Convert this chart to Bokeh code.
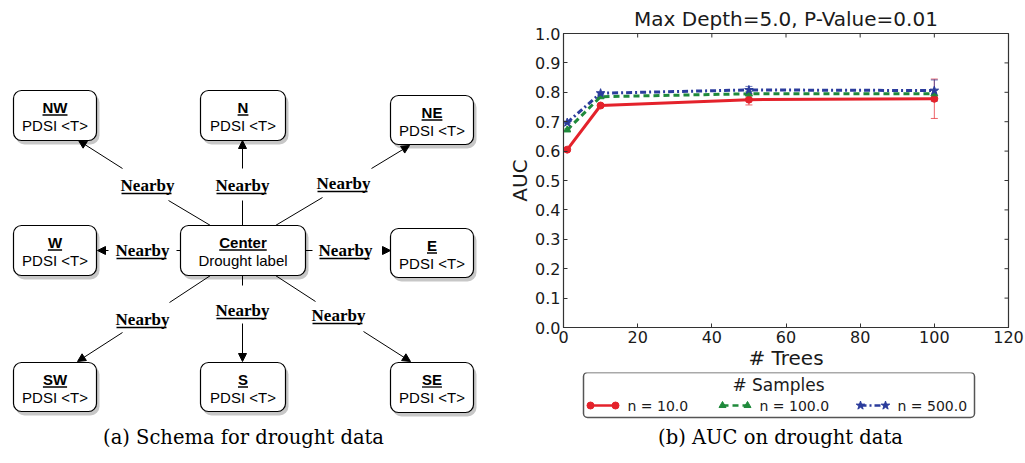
from bokeh.plotting import figure
from bokeh.models import (Range1d, FixedTicker, PrintfTickFormatter,
                          Whisker, ColumnDataSource, Arrow, NormalHead, TeeHead)
from bokeh.layouts import row, column
from bokeh.core.properties import value
from bokeh.embed import file_html
from bokeh.resources import INLINE

# ---------------- data (chart b) ----------------
trees = [1, 10, 50, 100]
auc_n10 = [0.605, 0.755, 0.775, 0.778]
auc_n100 = [0.672, 0.785, 0.795, 0.795]
auc_n500 = [0.697, 0.797, 0.808, 0.806]
err_n10 = [0.004, 0.004, 0.018, 0.067]
err_n100 = [0.003, 0.003, 0.008, 0.012]
err_n500 = [0.003, 0.003, 0.012, 0.036]
series_labels = ["n = 10.0", "n = 100.0", "n = 500.0"]
x_ticks = [0, 20, 40, 60, 80, 100, 120]
y_ticks = [0.0, 0.1, 0.2, 0.3, 0.4, 0.5, 0.6, 0.7, 0.8, 0.9, 1.0]
chart_title = "Max Depth=5.0, P-Value=0.01"
x_label = "# Trees"
y_label = "AUC"
legend_title = "# Samples"
caption_a = "(a) Schema for drought data"
caption_b = "(b) AUC on drought data"

# ---------------- data (schema a) ----------------
directions = ["NW", "N", "NE", "W", "E", "SW", "S", "SE"]
node_text = "PDSI <T>"
center_title = "Center"
center_text = "Drought label"
edge_label = "Nearby"

# ---------------- layout of schema (page pixel coords) ----------------
boxes = {
    "NW": (13, 96, 90, 140), "N": (200, 285, 90, 140), "NE": (390, 473, 95, 144),
    "W": (13, 96, 225, 275), "E": (390, 473, 228, 277),
    "SW": (13, 96, 362, 411), "S": (200, 285, 362, 411), "SE": (390, 473, 362, 412),
}
center_box = (180, 305, 225, 275)
nearby_pos = {"NW": (147, 185), "N": (242, 185), "NE": (343, 183), "W": (142, 250),
              "E": (345, 250), "SW": (142, 319), "S": (242, 310), "SE": (338, 315)}
stubs = {"NW": (210, 225, 168, 200), "N": (242, 225, 242, 200), "NE": (275, 225, 322, 197),
         "W": (180, 250, 176, 250), "E": (305, 250, 312, 250), "SW": (210, 275, 169, 302),
         "S": (242, 275, 242, 285), "SE": (275, 275, 315, 301)}
arrows = {"NW": (122, 168, 78, 140), "N": (242, 168, 242, 140), "NE": (371, 168, 409, 145),
          "W": (108, 250, 97, 250), "E": (383, 250, 390, 250), "SW": (122, 332, 77, 361),
          "S": (242, 323, 242, 361), "SE": (363, 331, 410, 361)}

# approx Arial-bold advance widths (em) for underline lengths
bold_w = {"N": .722, "W": .944, "E": .667, "S": .667, "C": .722, "e": .556, "n": .611,
          "t": .333, "r": .389}

L = figure(width=505, height=463, x_range=Range1d(0, 505), y_range=Range1d(463, 0),
           x_axis_type=None, y_axis_type=None, output_backend="svg",
           toolbar_location=None, min_border=0, frame_align=False)
L.outline_line_color = None
L.grid.visible = False

all_boxes = [boxes[d] for d in directions] + [center_box]
L.quad(left=[b[0] + 2 for b in all_boxes], right=[b[1] + 3 for b in all_boxes],
       top=[b[2] + 3 for b in all_boxes], bottom=[b[3] + 4 for b in all_boxes],
       fill_color="#000000", fill_alpha=0.22, line_color=None, border_radius=9)
L.quad(left=[b[0] for b in all_boxes], right=[b[1] for b in all_boxes],
       top=[b[2] for b in all_boxes], bottom=[b[3] for b in all_boxes],
       fill_color="white", line_color="black", line_width=1.2, border_radius=8)

titles = directions + [center_title]
subs = [node_text] * len(directions) + [center_text]
cx = [(b[0] + b[1]) / 2 for b in all_boxes]
ty = [b[2] + 17 for b in all_boxes]
sy = [b[2] + 35 for b in all_boxes]
L.text(x=cx, y=ty, text=titles, text_font=value("Liberation Sans"), text_font_style="bold",
       text_font_size="15px", text_align="center", text_baseline="middle", text_color="black")
L.text(x=cx, y=sy, text=subs, text_font=value("Liberation Sans"),
       text_font_size="15px", text_align="center", text_baseline="middle", text_color="black")
uw = [sum(bold_w[c] for c in t) * 15 / 2 for t in titles]
L.segment(x0=[c - w for c, w in zip(cx, uw)], x1=[c + w for c, w in zip(cx, uw)],
          y0=[y + 7.5 for y in ty], y1=[y + 7.5 for y in ty], line_color="black", line_width=1.3)

# edges
L.segment(x0=[stubs[d][0] for d in directions], y0=[stubs[d][1] for d in directions],
          x1=[stubs[d][2] for d in directions], y1=[stubs[d][3] for d in directions],
          line_color="black", line_width=1)
for d in directions:
    a = arrows[d]
    L.add_layout(Arrow(end=NormalHead(size=8, fill_color="black", line_color="black"),
                       x_start=a[0], y_start=a[1], x_end=a[2], y_end=a[3],
                       line_color="black", line_width=1))
nx = [nearby_pos[d][0] for d in directions]
ny = [nearby_pos[d][1] for d in directions]
L.text(x=nx, y=ny, text=[edge_label] * len(directions), text_font=value("Liberation Serif"),
       text_font_style="bold", text_font_size="17px", text_align="center",
       text_baseline="middle", text_color="black")
L.segment(x0=[x - 26 for x in nx], x1=[x + 24 for x in nx], y0=[y + 8 for y in ny],
          y1=[y + 8 for y in ny], line_color="black", line_width=1.6)
L.text(x=[243], y=[437], text=[caption_a], text_font=value("DejaVu Serif"),
       text_font_size="19.5px", text_align="center", text_baseline="middle", text_color="black")

# ---------------- chart b ----------------
red, green, blue = "#e4222b", "#1f8a3b", "#2b3c9c"
axc = "#333333"
font = "DejaVu Sans"
p = figure(width=520, height=372, x_range=Range1d(0, 120), y_range=Range1d(0, 1),
           output_backend="svg", toolbar_location=None, frame_align=False,
           min_border_left=58, min_border_right=17, min_border_top=33, min_border_bottom=44)
p.grid.visible = False
p.outline_line_color = axc
p.outline_line_width = 1.2

p.title.text = chart_title
p.title.align = "center"
p.title.text_font = font
p.title.text_font_size = "20px"
p.title.text_font_style = "normal"
p.title.text_color = "#1a1a1a"
p.title.standoff = 5

for ax in (p.xaxis[0], p.yaxis[0]):
    ax.major_tick_in = 4
    ax.major_tick_out = 0
    ax.minor_tick_line_color = None
    ax.axis_line_color = axc
    ax.major_tick_line_color = axc
    ax.major_label_text_font = font
    ax.major_label_text_font_size = "16px"
    ax.major_label_text_color = "#1a1a1a"
    ax.axis_label_text_font = font
    ax.axis_label_text_font_style = "normal"
    ax.axis_label_text_font_size = "20px"
    ax.axis_label_text_color = "#1a1a1a"
p.xaxis.ticker = FixedTicker(ticks=x_ticks)
p.yaxis.ticker = FixedTicker(ticks=y_ticks)
p.yaxis.formatter = PrintfTickFormatter(format="%.1f")
p.xaxis.major_label_standoff = 3
p.yaxis.major_label_standoff = 3
p.xaxis.axis_label = x_label
p.yaxis.axis_label = y_label
p.xaxis.axis_label_standoff = 0
p.yaxis.axis_label_standoff = 0

# inward ticks on the right and top edges (matplotlib style box)
p.scatter(x=[x_ticks[-1]] * len(y_ticks), y=y_ticks, marker="dash", size=8,
          line_color=axc, line_width=1)
p.scatter(x=x_ticks, y=[y_ticks[-1]] * len(x_ticks), marker="dash", angle=1.5708, size=8,
          line_color=axc, line_width=1)

# error bars
for ys, es, col in ((auc_n10, err_n10, red), (auc_n100, err_n100, green), (auc_n500, err_n500, blue)):
    src = ColumnDataSource(dict(x=trees, lower=[y - e for y, e in zip(ys, es)],
                                upper=[y + e for y, e in zip(ys, es)]))
    p.add_layout(Whisker(source=src, base="x", lower="lower", upper="upper",
                         line_color=col, line_width=1, line_alpha=0.7,
                         upper_head=TeeHead(size=7, line_color=col, line_alpha=0.7),
                         lower_head=TeeHead(size=7, line_color=col, line_alpha=0.7)))

p.line(trees, auc_n10, line_color=red, line_width=3)
p.scatter(trees, auc_n10, marker="circle", size=7, fill_color=red, line_color=red)
p.line(trees, auc_n100, line_color=green, line_width=3, line_dash="6 4")
p.scatter(trees, auc_n100, marker="triangle", size=7, fill_color=green, line_color=green)
p.line(trees, auc_n500, line_color=blue, line_width=3, line_dash="6 3 2 3")
p.scatter(trees, auc_n500, marker="star", size=9, fill_color=blue, line_color=blue)

# ---------------- legend + caption panel below the chart (page pixel coords) ----------------
B = figure(width=520, height=91, x_range=Range1d(505, 1025), y_range=Range1d(463, 372),
           x_axis_type=None, y_axis_type=None, output_backend="svg",
           toolbar_location=None, min_border=0, frame_align=False)
B.outline_line_color = None
B.grid.visible = False

B.quad(left=[583], right=[974], top=[372], bottom=[417], fill_color="white",
       line_color="#555555", line_width=1.5, border_radius=4)
B.text(x=[778], y=[384], text=[legend_title], text_font=value(font), text_font_size="17px",
       text_align="center", text_baseline="middle", text_color="#1a1a1a")
gx0 = [590, 722, 860]
colors = [red, green, blue]
dashes = ["solid", "6 4", "6 3 2 3"]
markers = ["circle", "triangle", "star"]
msizes = [7, 7, 9]
for i in range(3):
    B.line([gx0[i], gx0[i] + 25], [405, 405], line_color=colors[i], line_width=2.5,
           line_dash=dashes[i])
    B.scatter([gx0[i], gx0[i] + 25], [405, 405], marker=markers[i], size=msizes[i],
              fill_color=colors[i], line_color=colors[i])
B.text(x=[g + 37 for g in gx0], y=[405] * 3, text=series_labels, text_font=value(font),
       text_font_size="14px", text_align="left", text_baseline="middle", text_color="#1a1a1a")
B.text(x=[780], y=[437], text=[caption_b], text_font=value("DejaVu Serif"),
       text_font_size="19.5px", text_align="center", text_baseline="middle", text_color="black")

layout = row(L, column(p, B, spacing=0), spacing=0)
open("out.html", "w").write(file_html(layout, INLINE))
